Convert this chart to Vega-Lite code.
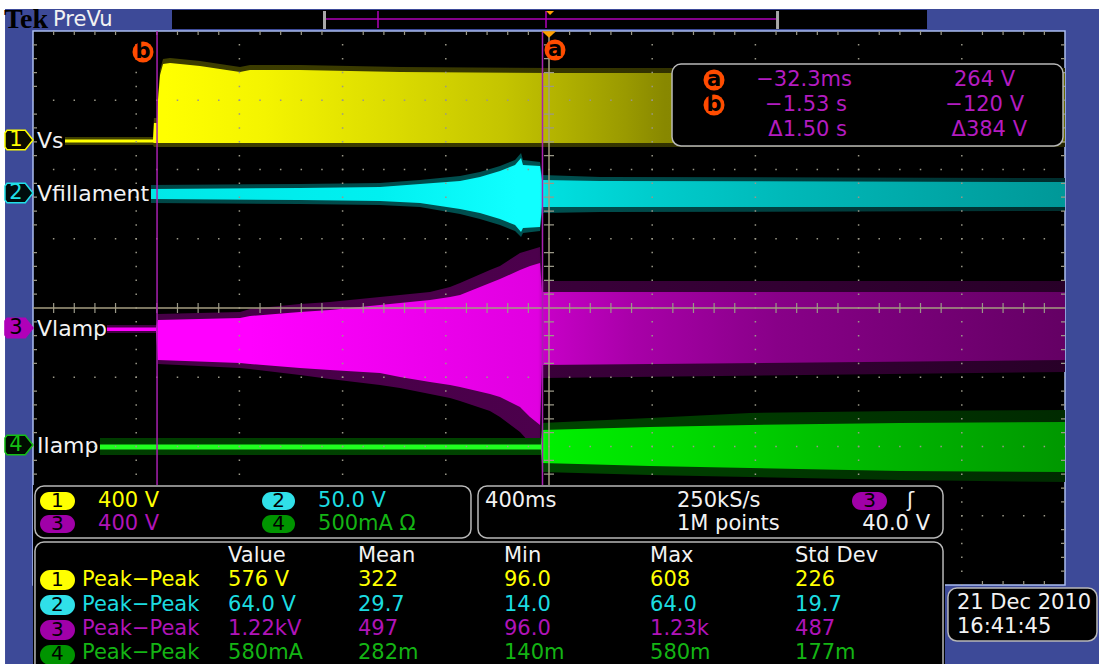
{
"$schema": "https://vega.github.io/schema/vega-lite/v6.json",
"width": 1032, "height": 554,
"autosize": {"type": "none"},
"padding": {"left": 33, "top": 31, "right": 34, "bottom": 79},
"background": "#3d4a98",
"config": {"view": {"fill": "#000000", "stroke": "#a9bcf0", "strokeWidth": 1.5}, "axis": {"disable": true}, "legend": {"disable": true}},
"resolve": {"scale": {"fill": "independent", "stroke": "independent", "color": "independent"}},
"datasets": {
"whites": [{"x":-5.5,"x2":5.5,"y":4.318,"y2":4.7},{"x":-5.5,"x2":-5.271,"y":-5.4,"y2":4.7}],
"recbox": [{"x":-3.653,"x2":3.663,"y":4.029,"y2":4.303}],
"brackets": [{"x":-2.19,"x2":-2.161,"y":4.029,"y2":4.289},{"x":2.2,"x2":2.229,"y":4.029,"y2":4.289}],
"recline": [{"x":-2.161,"x2":2.2,"y":4.173}],
"recmarks": [{"x":-1.657,"y":4.043,"y2":4.289},{"x":-0.029,"y":4.043,"y2":4.289}],
"trigtop": [{"x":0.01,"y":4.26}],
"trig": [{"x":0,"y":3.95}],
"tek": [{"x":-5.281,"y":4.043,"t":"Tek"}],
"ch1": [
{"x":-4.690,"it":2.433,"ib":2.390,"ft":2.469,"fb":2.354},
{"x":-3.837,"it":2.433,"ib":2.390,"ft":2.469,"fb":2.354},
{"x":-3.828,"it":2.671,"ib":2.383,"ft":2.744,"fb":2.325},
{"x":-3.798,"it":2.671,"ib":2.383,"ft":2.744,"fb":2.325},
{"x":-3.789,"it":3.004,"ib":2.383,"ft":3.076,"fb":2.325},
{"x":-3.769,"it":3.365,"ib":2.383,"ft":3.437,"fb":2.325},
{"x":-3.740,"it":3.523,"ib":2.383,"ft":3.596,"fb":2.325},
{"x":-3.672,"it":3.538,"ib":2.383,"ft":3.610,"fb":2.325},
{"x":-3.382,"it":3.495,"ib":2.383,"ft":3.567,"fb":2.325},
{"x":-2.994,"it":3.408,"ib":2.383,"ft":3.480,"fb":2.325},
{"x":-2.897,"it":3.437,"ib":2.383,"ft":3.509,"fb":2.325},
{"x":-2.413,"it":3.437,"ib":2.383,"ft":3.509,"fb":2.325},
{"x":-1.444,"it":3.408,"ib":2.383,"ft":3.480,"fb":2.325},
{"x":0.010,"it":3.394,"ib":2.383,"ft":3.466,"fb":2.325},
{"x":5.000,"it":3.394,"ib":2.383,"ft":3.466,"fb":2.325}],
"ch2": [
{"x":-3.857,"it":1.718,"ib":1.574,"ft":1.776,"fb":1.516},
{"x":-2.413,"it":1.733,"ib":1.560,"ft":1.791,"fb":1.502},
{"x":-1.638,"it":1.747,"ib":1.545,"ft":1.805,"fb":1.487},
{"x":-1.250,"it":1.791,"ib":1.516,"ft":1.848,"fb":1.458},
{"x":-0.862,"it":1.834,"ib":1.430,"ft":1.906,"fb":1.357},
{"x":-0.669,"it":1.892,"ib":1.372,"ft":1.964,"fb":1.285},
{"x":-0.475,"it":1.978,"ib":1.285,"ft":2.051,"fb":1.199},
{"x":-0.329,"it":2.065,"ib":1.199,"ft":2.137,"fb":1.112},
{"x":-0.271,"it":2.166,"ib":1.097,"ft":2.238,"fb":1.025},
{"x":-0.252,"it":2.065,"ib":1.155,"ft":2.137,"fb":1.083},
{"x":-0.087,"it":2.051,"ib":1.170,"ft":2.108,"fb":1.112},
{"x":-0.068,"it":1.848,"ib":1.458,"ft":1.921,"fb":1.372},
{"x":0.494,"it":1.834,"ib":1.458,"ft":1.892,"fb":1.386},
{"x":5.000,"it":1.819,"ib":1.458,"ft":1.877,"fb":1.401}],
"ch3": [
{"x":-4.283,"it":-0.282,"ib":-0.332,"ft":-0.245,"fb":-0.361},
{"x":-3.808,"it":-0.282,"ib":-0.332,"ft":-0.245,"fb":-0.361},
{"x":-3.789,"it":-0.173,"ib":-0.751,"ft":-0.087,"fb":-0.809},
{"x":-2.994,"it":-0.144,"ib":-0.794,"ft":-0.058,"fb":-0.866},
{"x":-2.897,"it":-0.116,"ib":-0.809,"ft":-0.014,"fb":-0.881},
{"x":-2.413,"it":-0.058,"ib":-0.866,"ft":0.058,"fb":-0.968},
{"x":-2.122,"it":-0.029,"ib":-0.895,"ft":0.087,"fb":-1.025},
{"x":-1.638,"it":0.043,"ib":-0.939,"ft":0.159,"fb":-1.112},
{"x":-1.444,"it":0.072,"ib":-0.996,"ft":0.188,"fb":-1.155},
{"x":-1.153,"it":0.116,"ib":-1.069,"ft":0.231,"fb":-1.242},
{"x":-0.959,"it":0.159,"ib":-1.112,"ft":0.303,"fb":-1.300},
{"x":-0.862,"it":0.188,"ib":-1.141,"ft":0.361,"fb":-1.343},
{"x":-0.572,"it":0.361,"ib":-1.242,"ft":0.549,"fb":-1.487},
{"x":-0.475,"it":0.419,"ib":-1.285,"ft":0.606,"fb":-1.574},
{"x":-0.281,"it":0.549,"ib":-1.430,"ft":0.794,"fb":-1.791},
{"x":-0.184,"it":0.606,"ib":-1.574,"ft":0.838,"fb":-1.949},
{"x":-0.087,"it":0.650,"ib":-1.690,"ft":0.881,"fb":-2.007},
{"x":-0.068,"it":0.231,"ib":-0.823,"ft":0.390,"fb":-1.011},
{"x":5.000,"it":0.231,"ib":-0.751,"ft":0.390,"fb":-0.924}],
"ch4": [
{"x":-4.351,"it":-1.971,"ib":-2.043,"ft":-1.877,"fb":-2.123},
{"x":-0.078,"it":-1.971,"ib":-2.043,"ft":-1.877,"fb":-2.123},
{"x":-0.068,"it":-1.762,"ib":-2.238,"ft":-1.661,"fb":-2.368},
{"x":0.979,"it":-1.718,"ib":-2.282,"ft":-1.588,"fb":-2.412},
{"x":1.948,"it":-1.690,"ib":-2.310,"ft":-1.516,"fb":-2.440},
{"x":3.401,"it":-1.661,"ib":-2.354,"ft":-1.487,"fb":-2.484},
{"x":5.000,"it":-1.646,"ib":-2.368,"ft":-1.473,"fb":-2.513}],
"vmaj": [{"x":-4},{"x":-3},{"x":-2},{"x":-1},{"x":1},{"x":2},{"x":3},{"x":4}],
"vmin": [{"x":-4.8},{"x":-4.6},{"x":-4.4},{"x":-4.2},{"x":-3.8},{"x":-3.6},{"x":-3.4},{"x":-3.2},{"x":-2.8},{"x":-2.6},{"x":-2.4},{"x":-2.2},{"x":-1.8},{"x":-1.6},{"x":-1.4},{"x":-1.2},{"x":-0.8},{"x":-0.6},{"x":-0.4},{"x":-0.2},{"x":0.2},{"x":0.4},{"x":0.6},{"x":0.8},{"x":1.2},{"x":1.4},{"x":1.6},{"x":1.8},{"x":2.2},{"x":2.4},{"x":2.6},{"x":2.8},{"x":3.2},{"x":3.4},{"x":3.6},{"x":3.8},{"x":4.2},{"x":4.4},{"x":4.6},{"x":4.8}],
"hmaj": [{"y":-3},{"y":-2},{"y":-1},{"y":1},{"y":2},{"y":3}],
"hmin": [{"y":-3.8},{"y":-3.6},{"y":-3.4},{"y":-3.2},{"y":-2.8},{"y":-2.6},{"y":-2.4},{"y":-2.2},{"y":-1.8},{"y":-1.6},{"y":-1.4},{"y":-1.2},{"y":-0.8},{"y":-0.6},{"y":-0.4},{"y":-0.2},{"y":0.2},{"y":0.4},{"y":0.6},{"y":0.8},{"y":1.2},{"y":1.4},{"y":1.6},{"y":1.8},{"y":2.2},{"y":2.4},{"y":2.6},{"y":2.8},{"y":3.2},{"y":3.4},{"y":3.6},{"y":3.8}],
"cvert": [{"x":0}],
"chorz": [{"y":0}],
"cursors": [{"x":-3.798,"y":4.0,"y2":-2.6},{"x":-0.063,"y":4.0,"y2":-2.6}],
"backing": [{"x":-5.0,"x2":3.837,"y":-2.556,"y2":-5.4}],
"boxes": [{"x":1.192,"x2":4.981,"y":3.523,"y2":2.339},{"x":-4.981,"x2":-0.756,"y":-2.570,"y2":-3.321},{"x":-0.688,"x2":3.818,"y":-2.570,"y2":-3.321},{"x":-4.981,"x2":3.818,"y":-3.379,"y2":-5.4},{"x":3.866,"x2":5.31,"y":-4.043,"y2":-4.809}],
"pills": [
{"x":-4.932,"x2":-4.593,"y":-2.657,"y2":-2.917,"c":"1"},
{"x":-4.932,"x2":-4.593,"y":-2.989,"y2":-3.249,"c":"3"},
{"x":-2.781,"x2":-2.461,"y":-2.657,"y2":-2.917,"c":"2"},
{"x":-2.781,"x2":-2.461,"y":-2.989,"y2":-3.249,"c":"4"},
{"x":2.936,"x2":3.275,"y":-2.657,"y2":-2.917,"c":"3"},
{"x":-4.932,"x2":-4.593,"y":-3.783,"y2":-4.072,"c":"1"},
{"x":-4.932,"x2":-4.593,"y":-4.144,"y2":-4.433,"c":"2"},
{"x":-4.932,"x2":-4.593,"y":-4.505,"y2":-4.794,"c":"3"},
{"x":-4.932,"x2":-4.593,"y":-4.866,"y2":-5.155,"c":"4"}],
"pilltext": [
{"x":-4.763,"y":-2.787,"t":"1"},{"x":-4.763,"y":-3.119,"t":"3"},{"x":-2.621,"y":-2.787,"t":"2"},{"x":-2.621,"y":-3.119,"t":"4"},{"x":3.106,"y":-2.787,"t":"3"},
{"x":-4.763,"y":-3.928,"t":"1"},{"x":-4.763,"y":-4.289,"t":"2"},{"x":-4.763,"y":-4.650,"t":"3"},{"x":-4.763,"y":-5.0,"t":"4"}],
"circles": [{"x":-3.934,"y":3.697,"t":"b"},{"x":0.058,"y":3.726,"t":"a"},{"x":1.599,"y":3.292,"t":"a"},{"x":1.599,"y":2.931,"t":"b"}],
"markers": [{"x":-5.136,"y":2.426,"c":"1","t":"1"},{"x":-5.136,"y":1.661,"c":"2","t":"2"},{"x":-5.136,"y":-0.289,"c":"3","t":"3"},{"x":-5.136,"y":-1.978,"c":"4","t":"4"}],
"labels": [{"x":-4.961,"y":2.412,"t":"Vs"},{"x":-4.961,"y":1.646,"t":"Vfillament"},{"x":-4.961,"y":-0.303,"t":"Vlamp"},{"x":-4.961,"y":-1.993,"t":"Ilamp"}],
"textL": [
{"x":-4.806,"y":4.166,"t":"PreVu","c":"w"},
{"x":-4.370,"y":-2.787,"t":"400 V","c":"1"},
{"x":-4.370,"y":-3.119,"t":"400 V","c":"3"},
{"x":-2.238,"y":-2.787,"t":"50.0 V","c":"2"},
{"x":-2.238,"y":-3.119,"t":"500mA Ω","c":"4"},
{"x":-0.620,"y":-2.787,"t":"400ms","c":"w"},
{"x":1.240,"y":-2.787,"t":"250kS/s","c":"w"},
{"x":1.240,"y":-3.119,"t":"1M points","c":"w"},
{"x":3.469,"y":-2.787,"t":"ʃ","c":"w"},
{"x":-3.110,"y":-3.581,"t":"Value","c":"w"},
{"x":-1.851,"y":-3.581,"t":"Mean","c":"w"},
{"x":-0.436,"y":-3.581,"t":"Min","c":"w"},
{"x":0.979,"y":-3.581,"t":"Max","c":"w"},
{"x":2.384,"y":-3.581,"t":"Std Dev","c":"w"},
{"x":-4.525,"y":-3.928,"t":"Peak−Peak","c":"1"},
{"x":-3.110,"y":-3.928,"t":"576 V","c":"1"},
{"x":-1.851,"y":-3.928,"t":"322","c":"1"},
{"x":-0.436,"y":-3.928,"t":"96.0","c":"1"},
{"x":0.979,"y":-3.928,"t":"608","c":"1"},
{"x":2.384,"y":-3.928,"t":"226","c":"1"},
{"x":-4.525,"y":-4.289,"t":"Peak−Peak","c":"2"},
{"x":-3.110,"y":-4.289,"t":"64.0 V","c":"2"},
{"x":-1.851,"y":-4.289,"t":"29.7","c":"2"},
{"x":-0.436,"y":-4.289,"t":"14.0","c":"2"},
{"x":0.979,"y":-4.289,"t":"64.0","c":"2"},
{"x":2.384,"y":-4.289,"t":"19.7","c":"2"},
{"x":-4.525,"y":-4.635,"t":"Peak−Peak","c":"3"},
{"x":-3.110,"y":-4.635,"t":"1.22kV","c":"3"},
{"x":-1.851,"y":-4.635,"t":"497","c":"3"},
{"x":-0.436,"y":-4.635,"t":"96.0","c":"3"},
{"x":0.979,"y":-4.635,"t":"1.23k","c":"3"},
{"x":2.384,"y":-4.635,"t":"487","c":"3"},
{"x":-4.525,"y":-4.982,"t":"Peak−Peak","c":"4"},
{"x":-3.110,"y":-4.982,"t":"580mA","c":"4"},
{"x":-1.851,"y":-4.982,"t":"282m","c":"4"},
{"x":-0.436,"y":-4.982,"t":"140m","c":"4"},
{"x":0.979,"y":-4.982,"t":"580m","c":"4"},
{"x":2.384,"y":-4.982,"t":"177m","c":"4"},
{"x":3.953,"y":-4.260,"t":"21 Dec  2010","c":"w"},
{"x":3.953,"y":-4.606,"t":"16:41:45","c":"w"}],
"textR": [
{"x":2.936,"y":3.292,"t":"−32.3ms","c":"3"},
{"x":2.888,"y":2.931,"t":"−1.53 s","c":"3"},
{"x":2.888,"y":2.570,"t":"Δ1.50 s","c":"3"},
{"x":4.516,"y":3.292,"t":"264 V","c":"3"},
{"x":4.603,"y":2.931,"t":"−120 V","c":"3"},
{"x":4.632,"y":2.570,"t":"Δ384 V","c":"3"},
{"x":3.692,"y":-3.119,"t":"40.0 V","c":"w"}]
},
"layer": [
{"data":{"name":"whites"},"mark":{"type":"rect","fill":"#ffffff"},"encoding":{"x":{"field":"x","type":"quantitative","scale":{"domain":[-5,5],"nice":false,"zero":false}},"x2":{"field":"x2"},"y":{"field":"y","type":"quantitative","scale":{"domain":[-4,4],"nice":false,"zero":false}},"y2":{"field":"y2"}}},
{"data":{"name":"recbox"},"mark":{"type":"rect","fill":"#000000"},"encoding":{"x":{"field":"x","type":"quantitative"},"x2":{"field":"x2"},"y":{"field":"y","type":"quantitative"},"y2":{"field":"y2"}}},
{"data":{"name":"brackets"},"mark":{"type":"rect","fill":"#a8a8a8"},"encoding":{"x":{"field":"x","type":"quantitative"},"x2":{"field":"x2"},"y":{"field":"y","type":"quantitative"},"y2":{"field":"y2"}}},
{"data":{"name":"recline"},"mark":{"type":"rule","stroke":"#b000b8","strokeWidth":1.5},"encoding":{"x":{"field":"x","type":"quantitative"},"x2":{"field":"x2"},"y":{"field":"y","type":"quantitative"}}},
{"data":{"name":"recmarks"},"mark":{"type":"rule","stroke":"#b000b8","strokeWidth":1.5},"encoding":{"x":{"field":"x","type":"quantitative"},"y":{"field":"y","type":"quantitative"},"y2":{"field":"y2"}}},
{"data":{"name":"trigtop"},"mark":{"type":"point","shape":"M -1 -0.5 L 1 -0.5 L 0 0.5 Z","filled":true,"fill":"#ffa000","opacity":1,"strokeWidth":0,"size":64},"encoding":{"x":{"field":"x","type":"quantitative"},"y":{"field":"y","type":"quantitative"}}},
{"data":{"name":"tek"},"mark":{"type":"text","font":"Liberation Serif","fontWeight":"bold","fontSize":28,"align":"left","baseline":"alphabetic","fill":"#000000"},"encoding":{"x":{"field":"x","type":"quantitative"},"y":{"field":"y","type":"quantitative"},"text":{"field":"t"}}},
{"data":{"name":"ch1"},"mark":{"type":"area","orient":"vertical","fill":{"gradient":"linear","x1":0,"y1":0,"x2":1,"y2":0,"stops":[{"offset":0,"color":"#404000"},{"offset":0.5,"color":"#363600"},{"offset":1,"color":"#242400"}]}},"encoding":{"x":{"field":"x","type":"quantitative"},"y":{"field":"ft","type":"quantitative"},"y2":{"field":"fb"}}},
{"data":{"name":"ch1"},"mark":{"type":"area","orient":"vertical","fill":{"gradient":"linear","x1":0,"y1":0,"x2":1,"y2":0,"stops":[{"offset":0,"color":"#ffff00"},{"offset":0.1,"color":"#ffff00"},{"offset":0.2,"color":"#f4f400"},{"offset":0.335,"color":"#dada00"},{"offset":0.44,"color":"#c4c400"},{"offset":0.5,"color":"#b0b000"},{"offset":0.56,"color":"#9a9a00"},{"offset":0.6,"color":"#888800"},{"offset":1,"color":"#666600"}]}},"encoding":{"x":{"field":"x","type":"quantitative"},"y":{"field":"it","type":"quantitative"},"y2":{"field":"ib"}}},
{"data":{"name":"ch2"},"mark":{"type":"area","orient":"vertical","fill":{"gradient":"linear","x1":0,"y1":0,"x2":1,"y2":0,"stops":[{"offset":0,"color":"#004646"},{"offset":0.43,"color":"#005050"},{"offset":1,"color":"#002e2e"}]}},"encoding":{"x":{"field":"x","type":"quantitative"},"y":{"field":"ft","type":"quantitative"},"y2":{"field":"fb"}}},
{"data":{"name":"ch2"},"mark":{"type":"area","orient":"vertical","fill":{"gradient":"linear","x1":0,"y1":0,"x2":1,"y2":0,"stops":[{"offset":0,"color":"#00e8e8"},{"offset":0.25,"color":"#00f0f0"},{"offset":0.4,"color":"#10ffff"},{"offset":0.425,"color":"#10ffff"},{"offset":0.432,"color":"#00e0e0"},{"offset":0.55,"color":"#00cccc"},{"offset":0.7,"color":"#00b8b8"},{"offset":1,"color":"#009898"}]}},"encoding":{"x":{"field":"x","type":"quantitative"},"y":{"field":"it","type":"quantitative"},"y2":{"field":"ib"}}},
{"data":{"name":"ch3"},"mark":{"type":"area","orient":"vertical","fill":{"gradient":"linear","x1":0,"y1":0,"x2":1,"y2":0,"stops":[{"offset":0,"color":"#440044"},{"offset":0.45,"color":"#4c004c"},{"offset":0.46,"color":"#3a003a"},{"offset":1,"color":"#280028"}]}},"encoding":{"x":{"field":"x","type":"quantitative"},"y":{"field":"ft","type":"quantitative"},"y2":{"field":"fb"}}},
{"data":{"name":"ch3"},"mark":{"type":"area","orient":"vertical","fill":{"gradient":"linear","x1":0,"y1":0,"x2":1,"y2":0,"stops":[{"offset":0,"color":"#ff00ff"},{"offset":0.15,"color":"#ff00ff"},{"offset":0.3,"color":"#f000f0"},{"offset":0.45,"color":"#e000e0"},{"offset":0.455,"color":"#c800c8"},{"offset":0.55,"color":"#a800a8"},{"offset":0.7,"color":"#880088"},{"offset":1,"color":"#640064"}]}},"encoding":{"x":{"field":"x","type":"quantitative"},"y":{"field":"it","type":"quantitative"},"y2":{"field":"ib"}}},
{"data":{"name":"ch4"},"mark":{"type":"area","orient":"vertical","fill":{"gradient":"linear","x1":0,"y1":0,"x2":1,"y2":0,"stops":[{"offset":0,"color":"#003c00"},{"offset":0.46,"color":"#004400"},{"offset":1,"color":"#002a00"}]}},"encoding":{"x":{"field":"x","type":"quantitative"},"y":{"field":"ft","type":"quantitative"},"y2":{"field":"fb"}}},
{"data":{"name":"ch4"},"mark":{"type":"area","orient":"vertical","fill":{"gradient":"linear","x1":0,"y1":0,"x2":1,"y2":0,"stops":[{"offset":0,"color":"#20ff20"},{"offset":0.458,"color":"#20ff20"},{"offset":0.462,"color":"#00f000"},{"offset":0.6,"color":"#00dc00"},{"offset":0.75,"color":"#00c000"},{"offset":1,"color":"#009800"}]}},"encoding":{"x":{"field":"x","type":"quantitative"},"y":{"field":"it","type":"quantitative"},"y2":{"field":"ib"}}},
{"data":{"name":"vmaj"},"mark":{"type":"rule","stroke":"#9a9888","strokeWidth":1.5,"strokeDash":[1.5,12.35],"strokeDashOffset":0.75},"encoding":{"x":{"field":"x","type":"quantitative"}}},
{"data":{"name":"vmin"},"mark":{"type":"rule","stroke":"#9a9888","strokeWidth":1.2,"strokeDash":[4,268,10,268,4,200]},"encoding":{"x":{"field":"x","type":"quantitative"}}},
{"data":{"name":"hmaj"},"mark":{"type":"rule","stroke":"#9a9888","strokeWidth":1.5,"strokeDash":[1.5,19.14],"strokeDashOffset":0.75},"encoding":{"y":{"field":"y","type":"quantitative"}}},
{"data":{"name":"hmin"},"mark":{"type":"rule","stroke":"#9a9888","strokeWidth":1.2,"strokeDash":[4,507,10,507,4,200]},"encoding":{"y":{"field":"y","type":"quantitative"}}},
{"data":{"name":"cvert"},"mark":{"type":"rule","stroke":"#a59d80","strokeWidth":1.5},"encoding":{"x":{"field":"x","type":"quantitative"}}},
{"data":{"name":"chorz"},"mark":{"type":"rule","stroke":"#a59d80","strokeWidth":1.5},"encoding":{"y":{"field":"y","type":"quantitative"}}},
{"data":{"name":"cursors"},"mark":{"type":"rule","stroke":"#a820b0","strokeWidth":1.5},"encoding":{"x":{"field":"x","type":"quantitative"},"y":{"field":"y","type":"quantitative"},"y2":{"field":"y2"}}},
{"data":{"name":"trig"},"mark":{"type":"point","shape":"M -1 -0.45 L 1 -0.45 L 0 0.45 Z","filled":true,"fill":"#ffa000","opacity":1,"strokeWidth":0,"size":200},"encoding":{"x":{"field":"x","type":"quantitative"},"y":{"field":"y","type":"quantitative"}}},
{"data":{"name":"backing"},"mark":{"type":"rect","fill":"#000000"},"encoding":{"x":{"field":"x","type":"quantitative"},"x2":{"field":"x2"},"y":{"field":"y","type":"quantitative"},"y2":{"field":"y2"}}},
{"data":{"name":"boxes"},"mark":{"type":"rect","fill":"#000000","stroke":"#b8b8b8","strokeWidth":1.5,"cornerRadius":9},"encoding":{"x":{"field":"x","type":"quantitative"},"x2":{"field":"x2"},"y":{"field":"y","type":"quantitative"},"y2":{"field":"y2"}}},
{"data":{"name":"pills"},"mark":{"type":"rect","cornerRadius":10},"encoding":{"x":{"field":"x","type":"quantitative"},"x2":{"field":"x2"},"y":{"field":"y","type":"quantitative"},"y2":{"field":"y2"},"fill":{"field":"c","type":"nominal","scale":{"domain":["1","2","3","4"],"range":["#ffff00","#30e0e8","#a000a8","#009400"]},"legend":null}}},
{"data":{"name":"pilltext"},"mark":{"type":"text","font":"DejaVu Sans","fontSize":20,"align":"center","baseline":"middle","fill":"#000000"},"encoding":{"x":{"field":"x","type":"quantitative"},"y":{"field":"y","type":"quantitative"},"text":{"field":"t"}}},
{"data":{"name":"circles"},"mark":{"type":"point","shape":"circle","filled":true,"fill":"#ff4c00","opacity":1,"strokeWidth":0,"size":440},"encoding":{"x":{"field":"x","type":"quantitative"},"y":{"field":"y","type":"quantitative"}}},
{"data":{"name":"circles"},"mark":{"type":"text","font":"DejaVu Sans","fontWeight":"bold","fontSize":21,"align":"center","baseline":"middle","fill":"#000000"},"encoding":{"x":{"field":"x","type":"quantitative"},"y":{"field":"y","type":"quantitative"},"text":{"field":"t"}}},
{"data":{"name":"markers"},"mark":{"type":"point","shape":"M -0.85 -0.7 L 0.45 -0.7 L 1 0 L 0.45 0.7 L -0.85 0.7 L -1 0.5 L -1 -0.5 Z","filled":true,"opacity":1,"strokeWidth":1.5,"size":784},"encoding":{"x":{"field":"x","type":"quantitative"},"y":{"field":"y","type":"quantitative"},"fill":{"field":"c","type":"nominal","scale":{"domain":["1","2","3","4"],"range":["#0c0c00","#000c0c","#b000b8","#000c00"]},"legend":null},"stroke":{"field":"c","type":"nominal","scale":{"domain":["1","2","3","4"],"range":["#ffff00","#20e0e8","#b000b8","#14c014"]},"legend":null}}},
{"data":{"name":"markers"},"mark":{"type":"text","font":"DejaVu Sans","fontSize":21,"align":"center","baseline":"middle","dx":-3},"encoding":{"x":{"field":"x","type":"quantitative"},"y":{"field":"y","type":"quantitative"},"text":{"field":"t"},"color":{"field":"c","type":"nominal","scale":{"domain":["1","2","3","4"],"range":["#ffff00","#20e0e8","#000000","#14c014"]},"legend":null}}},
{"data":{"name":"labels"},"mark":{"type":"text","font":"DejaVu Sans","fontSize":22,"align":"left","baseline":"middle","fill":"#f2f2f2"},"encoding":{"x":{"field":"x","type":"quantitative"},"y":{"field":"y","type":"quantitative"},"text":{"field":"t"}}},
{"data":{"name":"textL"},"mark":{"type":"text","font":"DejaVu Sans","fontSize":21,"align":"left","baseline":"middle"},"encoding":{"x":{"field":"x","type":"quantitative"},"y":{"field":"y","type":"quantitative"},"text":{"field":"t"},"color":{"field":"c","type":"nominal","scale":{"domain":["1","2","3","4","w"],"range":["#ffff00","#1cdce0","#b014b8","#14b414","#f2f2f2"]},"legend":null}}},
{"data":{"name":"textR"},"mark":{"type":"text","font":"DejaVu Sans","fontSize":21,"align":"right","baseline":"middle"},"encoding":{"x":{"field":"x","type":"quantitative"},"y":{"field":"y","type":"quantitative"},"text":{"field":"t"},"color":{"field":"c","type":"nominal","scale":{"domain":["1","2","3","4","w"],"range":["#ffff00","#1cdce0","#b41cc0","#14b414","#f2f2f2"]},"legend":null}}}
]
}
